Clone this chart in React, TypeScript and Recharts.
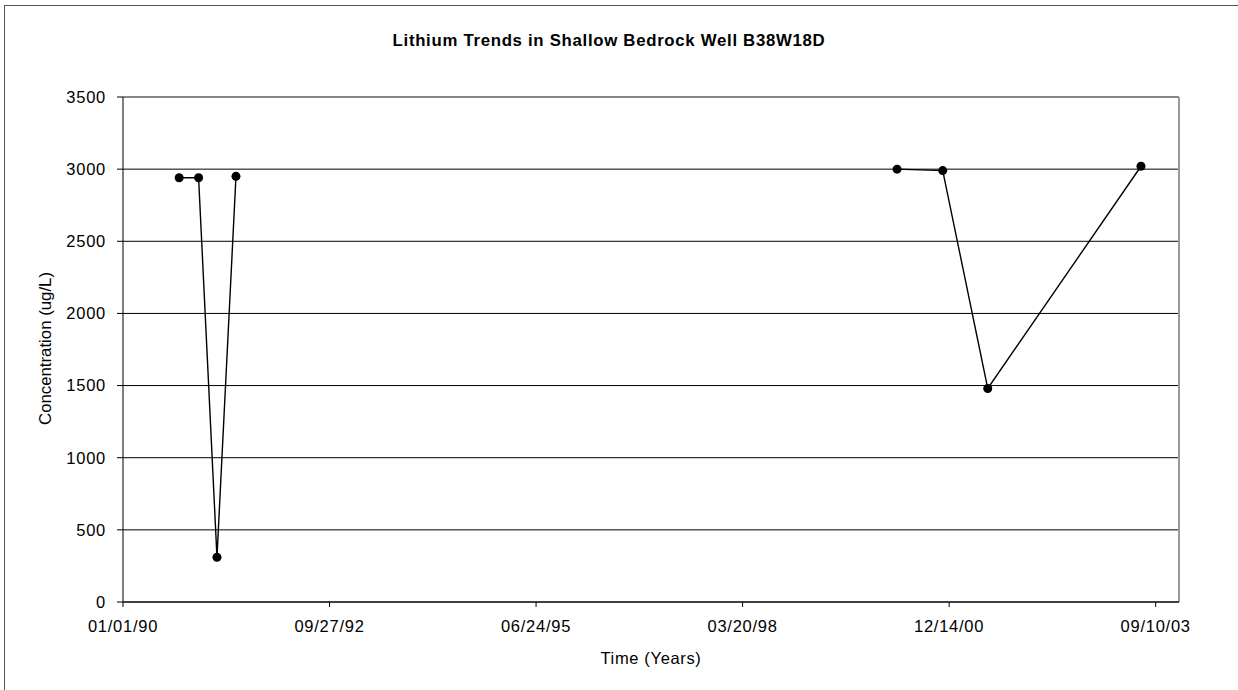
import { LineChart, Line, XAxis, YAxis, CartesianGrid, ReferenceLine } from "recharts";

// two sampling campaigns, lithium in ug/L
const earlyDates = ["1990-09-30", "1991-01-02", "1991-04-01", "1991-07-02"];
const earlyLithium = [2940, 2940, 310, 2950];
const lateDates = ["2000-04-06", "2000-11-13", "2001-06-19", "2003-07-01"];
const lateLithium = [3000, 2990, 1480, 3020];

const xTickDates = ["1990-01-01", "1992-09-27", "1995-06-24", "1998-03-20", "2000-12-14", "2003-09-10"];
const xEndDate = "2004-01-01";
const yTicks = [0, 500, 1000, 1500, 2000, 2500, 3000, 3500];

const DAY = 86400000;
const toDays = (s: string) => {
  const [y, m, d] = s.split("-").map(Number);
  return Date.UTC(y, m - 1, d) / DAY;
};
const fmtDate = (v: number) => {
  const d = new Date(v * DAY);
  const p = (n: number) => String(n).padStart(2, "0");
  return `${p(d.getUTCMonth() + 1)}/${p(d.getUTCDate())}/${p(d.getUTCFullYear() % 100)}`;
};

const data = [
  ...earlyDates.map((s, i) => ({ t: toDays(s), early: earlyLithium[i] })),
  ...lateDates.map((s, i) => ({ t: toDays(s), late: lateLithium[i] })),
];
const xTicks = xTickDates.map(toDays);
const xMin = xTicks[0];
const xMax = toDays(xEndDate);

const font = "'Liberation Sans', Arial, sans-serif";
const tickStyle = { fontSize: 16.5, fill: "#000", fontFamily: font, letterSpacing: 0.75 };
const dotStyle = { r: 4.5, fill: "#000", stroke: "#000", strokeWidth: 0 };

export default function App() {
  return (
    <div
      style={{
        position: "absolute",
        left: 0,
        top: 0,
        width: 1238,
        height: 690,
        overflow: "hidden",
        background: "#fff",
        fontFamily: font,
      }}
    >
      <div
        style={{
          position: "absolute",
          left: 4,
          top: 5,
          width: 1400,
          height: 900,
          border: "1px solid #555",
        }}
      />
      <div
        style={{
          position: "absolute",
          left: 0,
          top: 30.5,
          width: 1218,
          textAlign: "center",
          fontSize: 16.8,
          fontWeight: "bold",
          letterSpacing: 0.7,
          color: "#000",
        }}
      >
        Lithium Trends in Shallow Bedrock Well B38W18D
      </div>
      <div style={{ position: "absolute", left: 0, top: 0 }}>
        <LineChart width={1238} height={690} data={data} margin={{ top: 97, right: 59, bottom: 0, left: 0 }}>
          <CartesianGrid horizontal vertical={false} stroke="#000" strokeWidth={1} />
          <XAxis
            dataKey="t"
            type="number"
            scale="linear"
            domain={[xMin, xMax]}
            ticks={xTicks}
            tickFormatter={fmtDate}
            height={88}
            stroke="#000"
            tickSize={5}
            tickMargin={13}
            tick={tickStyle}
            interval={0}
            allowDataOverflow
            label={{
              content: (p: any) => {
                const vb = p.viewBox;
                return (
                  <text
                    x={vb.x + vb.width / 2}
                    y={664}
                    textAnchor="middle"
                    fontSize={16.5}
                    letterSpacing={0.65}
                    fontFamily={font}
                    fill="#000"
                  >
                    Time (Years)
                  </text>
                );
              },
            }}
          />
          <YAxis
            type="number"
            domain={[0, 3500]}
            ticks={yTicks}
            width={123}
            stroke="#000"
            tickSize={6}
            tickMargin={11}
            tick={tickStyle}
            interval={0}
            label={{
              content: () => {
                const cx = 45;
                const cy = 348.5;
                return (
                  <text
                    x={cx}
                    y={cy}
                    transform={`rotate(-90 ${cx} ${cy})`}
                    textAnchor="middle"
                    dominantBaseline="central"
                    fontSize={16.8}
                    fontFamily={font}
                    fill="#000"
                  >
                    Concentration (ug/L)
                  </text>
                );
              },
            }}
          />
          <ReferenceLine y={3500} stroke="#888" strokeWidth={1.5} />
          <ReferenceLine x={xMax} stroke="#999" strokeWidth={2} />
          <Line
            type="linear"
            dataKey="early"
            stroke="#000"
            strokeWidth={1.4}
            dot={dotStyle}
            activeDot={false}
            connectNulls={false}
            isAnimationActive={false}
          />
          <Line
            type="linear"
            dataKey="late"
            stroke="#000"
            strokeWidth={1.4}
            dot={dotStyle}
            activeDot={false}
            connectNulls={false}
            isAnimationActive={false}
          />
        </LineChart>
      </div>
    </div>
  );
}
